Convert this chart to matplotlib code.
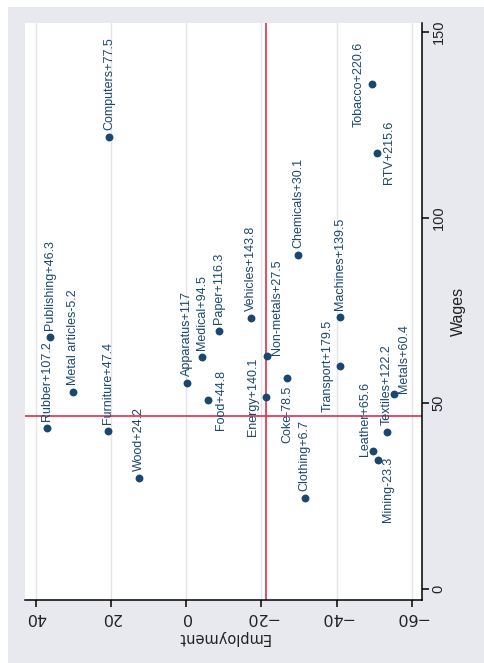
import matplotlib
matplotlib.use('Agg')
from matplotlib import pyplot as plt
from matplotlib.patches import Rectangle

# sectors: change in employment vs wages, label = sector + profit change
sectors = ['Computers', 'Tobacco', 'RTV', 'Rubber', 'Publishing', 'Metal articles',
           'Furniture', 'Wood', 'Apparatus', 'Medical', 'Food', 'Paper', 'Vehicles',
           'Non-metals', 'Energy', 'Coke', 'Chemicals', 'Machines', 'Transport',
           'Metals', 'Textiles', 'Leather', 'Mining', 'Clothing']
profits = [77.5, 220.6, 215.6, 107.2, 46.3, -5.2, 47.4, 24.2, 117, 94.5, 44.8, 116.3,
           143.8, 27.5, 140.1, -78.5, 30.1, 139.5, 179.5, 60.4, 122.2, 65.6, -23.3, 6.7]
employment = [20.5, -49.3, -50.6, 37.0, 36.3, 30.1, 20.9, 12.5, -0.3, -4.1, -5.8, -8.7,
              -17.1, -21.4, -21.2, -26.9, -29.8, -41.0, -41.0, -55.2, -53.3, -49.7, -51.0, -31.5]
wages = [121.8, 135.9, 117.5, 43.3, 67.9, 52.9, 42.4, 29.8, 55.4, 62.4, 50.9, 69.5,
         72.9, 62.6, 51.6, 56.7, 90.0, 73.3, 60.1, 52.4, 42.2, 37.0, 34.7, 24.4]
# stata style clock position of the marker label (3 = default)
mlabpos = {'Tobacco': 12, 'RTV': 6, 'Food': 6, 'Energy': 12, 'Transport': 12,
           'Coke': 9, 'Non-metals': 4, 'Metals': 4, 'Leather': 1, 'Mining': 7}

emp_ticks = [40, 20, 0, -20, -40, -60]
wage_ticks = [0, 50, 100, 150]
emp_ref = -21.1
wage_ref = 46.6

navy = '#1a476f'
red = '#e0304a'
bg = '#e8e9ee'
narrow = ['Liberation Sans Narrow', 'Liberation Sans']

# the graph is turned a quarter turn: label offsets in screen directions
pos_map = {3: ((0, 5), 'center', 'bottom'),
           12: ((-5, 0), 'right', 'center'),
           6: ((5, 0), 'left', 'center'),
           9: ((0, -5), 'center', 'top'),
           4: ((3, 1), 'left', 'bottom'),
           1: ((-1.5, -3.5), 'right', 'bottom'),
           7: ((3, 2), 'left', 'top')}

W, H = 484, 663
fig = plt.figure(figsize=(W / 100, H / 100), dpi=100)
fig.patches.append(Rectangle((8 / W, 0), 1, (H - 7) / H, transform=fig.transFigure,
                             facecolor=bg, edgecolor='none', zorder=-1))
ax = fig.add_axes([25 / W, (H - 600) / H, (422 - 25) / W, (600 - 23) / H])
ax.set_facecolor('white')

ax.set_xlim(42.9, -62.7)
ax.set_ylim(-3.0, 152.4)

for e in emp_ticks:
    ax.axvline(e, color='#e2e4e8', lw=1.0, zorder=1)
ax.axvline(emp_ref, color=red, lw=1.2, zorder=2)
ax.axhline(wage_ref, color=red, lw=1.2, zorder=2)

ax.scatter(employment, wages, s=32, color=navy, zorder=3, linewidths=0)

for name, p, e, w in zip(sectors, profits, employment, wages):
    (dx, dy), ha, va = pos_map[mlabpos.get(name, 3)]
    ax.annotate(f'{name}{p:+g}', (e, w), xytext=(dx, dy), textcoords='offset points',
                rotation=90, ha=ha, va=va, fontsize=9, color=navy, family=narrow,
                zorder=4)

for s in ['top', 'left']:
    ax.spines[s].set_visible(False)
for s in ['bottom', 'right']:
    ax.spines[s].set_linewidth(1.1)
    ax.spines[s].set_color('black')

ax.yaxis.tick_right()
ax.yaxis.set_label_position('right')
ax.set_xticks(emp_ticks)
ax.set_yticks(wage_ticks)
ax.tick_params(axis='both', direction='out', length=5, width=1.1, pad=2)
ax.set_xticklabels([f'{t}' if t >= 0 else f'\u2212{-t}' for t in emp_ticks],
                   rotation=180, fontsize=11.5, family='DejaVu Sans', color='#222222')
ax.set_yticklabels([str(t) for t in wage_ticks], rotation=90, va='center',
                   fontsize=10.5, family=narrow, color='#222222')

ax.set_xlabel('Employment', rotation=180, fontsize=10.5, family='DejaVu Sans',
              color='#222222', labelpad=4)
ax.set_ylabel('Wages', rotation=90, fontsize=11.5, family='Liberation Sans',
              color='#222222', labelpad=4)

fig.savefig('out.png', dpi=100, facecolor='white')
